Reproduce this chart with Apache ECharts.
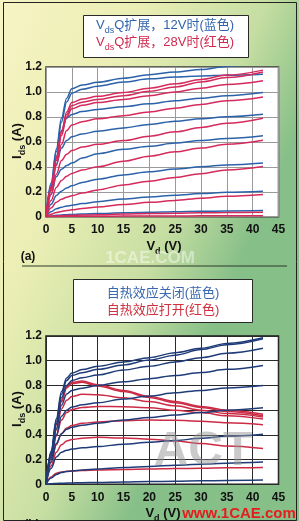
<!DOCTYPE html>
<html>
<head>
<meta charset="utf-8">
<script src="https://cdn.jsdelivr.net/npm/echarts@6/dist/echarts.min.js"></script>
<style>
html,body{margin:0;padding:0;background:#fff;}
#chart{width:299px;height:521px;}
</style>
</head>
<body>
<div id="chart"></div>
<script>
// Drain voltage sample points (V)
const VD = [0, 1, 2, 3, 4, 5, 7, 10, 15, 20, 25, 30, 35, 42];
const X_TICKS = ['0','5','10','15','20','25','30','35','40','45'];
const Y_TICKS = ['0','0.2','0.4','0.6','0.8','1.0','1.2'];

// (a) Vds Q extension, 12V (blue)
const A_BLUE_1 = [0, 0.27, 0.54, 0.79, 0.95, 1.025, 1.055, 1.078, 1.11, 1.138, 1.16, 1.18, 1.205, 1.235];
const A_BLUE_2 = [0, 0.26, 0.52, 0.76, 0.92, 0.99, 1.022, 1.046, 1.08, 1.105, 1.12, 1.128, 1.134, 1.142];
const A_BLUE_3 = [0, 0.24, 0.48, 0.69, 0.79, 0.82, 0.843, 0.86, 0.882, 0.905, 0.93, 0.95, 0.97, 0.995];
const A_BLUE_4 = [0, 0.22, 0.42, 0.55, 0.61, 0.64, 0.663, 0.685, 0.712, 0.74, 0.765, 0.785, 0.802, 0.822];
const A_BLUE_5 = [0, 0.18, 0.32, 0.38, 0.41, 0.43, 0.47, 0.505, 0.54, 0.565, 0.59, 0.61, 0.627, 0.648];
const A_BLUE_6 = [0, 0.1, 0.17, 0.205, 0.23, 0.248, 0.275, 0.3, 0.335, 0.36, 0.382, 0.4, 0.415, 0.43];
const A_BLUE_7 = [0, 0.04, 0.063, 0.076, 0.085, 0.092, 0.105, 0.12, 0.142, 0.158, 0.172, 0.185, 0.195, 0.204];
const A_BLUE_8 = [0, 0.006, 0.011, 0.014, 0.016, 0.018, 0.021, 0.025, 0.031, 0.036, 0.04, 0.043, 0.046, 0.049];
// (a) Vds Q extension, 28V (red)
const A_RED_1 = [0, 0.24, 0.47, 0.68, 0.84, 0.915, 0.943, 0.965, 0.995, 1.03, 1.065, 1.1, 1.135, 1.175];
const A_RED_2 = [0, 0.235, 0.46, 0.67, 0.82, 0.89, 0.918, 0.94, 0.97, 1.005, 1.04, 1.08, 1.115, 1.16];
const A_RED_3 = [0, 0.23, 0.45, 0.65, 0.8, 0.865, 0.893, 0.915, 0.94, 0.97, 1.0, 1.03, 1.06, 1.09];
const A_RED_4 = [0, 0.21, 0.41, 0.58, 0.69, 0.735, 0.762, 0.785, 0.81, 0.84, 0.87, 0.9, 0.93, 0.96];
const A_RED_5 = [0, 0.18, 0.34, 0.45, 0.5, 0.53, 0.558, 0.58, 0.61, 0.645, 0.68, 0.715, 0.75, 0.79];
const A_RED_6 = [0, 0.13, 0.235, 0.29, 0.325, 0.347, 0.375, 0.4, 0.445, 0.485, 0.52, 0.55, 0.58, 0.613];
const A_RED_7 = [0, 0.07, 0.115, 0.14, 0.156, 0.168, 0.19, 0.215, 0.255, 0.285, 0.315, 0.345, 0.375, 0.402];
const A_RED_8 = [0, 0.02, 0.034, 0.042, 0.049, 0.055, 0.065, 0.078, 0.097, 0.115, 0.13, 0.148, 0.163, 0.177];
const A_RED_9 = [0, 0.003, 0.006, 0.008, 0.01, 0.011, 0.013, 0.016, 0.021, 0.025, 0.028, 0.031, 0.034, 0.036];
const A_RED_10 = [0, 0.001, 0.002, 0.002, 0.003, 0.003, 0.003, 0.004, 0.005, 0.006, 0.006, 0.007, 0.007, 0.008];

// (b) self-heating off (blue)
const B_BLUE_1 = [0, 0.27, 0.53, 0.75, 0.86, 0.9, 0.928, 0.955, 0.99, 1.025, 1.065, 1.1, 1.14, 1.185];
const B_BLUE_2 = [0, 0.26, 0.51, 0.73, 0.84, 0.88, 0.903, 0.93, 0.965, 1.005, 1.045, 1.09, 1.13, 1.178];
const B_BLUE_3 = [0, 0.25, 0.49, 0.7, 0.8, 0.84, 0.862, 0.885, 0.925, 0.955, 0.99, 1.025, 1.06, 1.1];
const B_BLUE_4 = [0, 0.23, 0.45, 0.64, 0.73, 0.76, 0.778, 0.8, 0.83, 0.855, 0.88, 0.905, 0.93, 0.962];
const B_BLUE_5 = [0, 0.21, 0.4, 0.55, 0.6, 0.625, 0.643, 0.66, 0.69, 0.715, 0.74, 0.76, 0.78, 0.8];
const B_BLUE_6 = [0, 0.18, 0.33, 0.41, 0.445, 0.462, 0.478, 0.495, 0.52, 0.54, 0.56, 0.58, 0.6, 0.62];
const B_BLUE_7 = [0, 0.13, 0.22, 0.26, 0.275, 0.285, 0.295, 0.305, 0.325, 0.34, 0.355, 0.372, 0.388, 0.405];
const B_BLUE_8 = [0, 0.05, 0.08, 0.095, 0.103, 0.108, 0.115, 0.123, 0.135, 0.145, 0.155, 0.163, 0.171, 0.18];
const B_BLUE_9 = [0, 0.004, 0.007, 0.009, 0.01, 0.011, 0.013, 0.015, 0.019, 0.022, 0.025, 0.028, 0.031, 0.034];
// (b) self-heating on (red)
const B_RED_1 = [0, 0.25, 0.49, 0.68, 0.79, 0.825, 0.835, 0.805, 0.76, 0.71, 0.67, 0.63, 0.6, 0.566];
const B_RED_2 = [0, 0.245, 0.48, 0.67, 0.78, 0.815, 0.825, 0.795, 0.75, 0.703, 0.66, 0.622, 0.59, 0.555];
const B_RED_3 = [0, 0.23, 0.44, 0.61, 0.68, 0.71, 0.728, 0.725, 0.7, 0.67, 0.635, 0.6, 0.572, 0.545];
const B_RED_4 = [0, 0.21, 0.39, 0.52, 0.58, 0.605, 0.622, 0.63, 0.628, 0.62, 0.6, 0.58, 0.555, 0.528];
const B_RED_5 = [0, 0.18, 0.32, 0.41, 0.455, 0.475, 0.493, 0.505, 0.515, 0.52, 0.518, 0.51, 0.498, 0.482];
const B_RED_6 = [0, 0.15, 0.26, 0.32, 0.35, 0.362, 0.373, 0.38, 0.375, 0.365, 0.35, 0.33, 0.31, 0.29];
const B_RED_7 = [0, 0.06, 0.09, 0.1, 0.105, 0.108, 0.112, 0.116, 0.12, 0.123, 0.127, 0.13, 0.133, 0.136];

const A_BLUE = [A_BLUE_1, A_BLUE_2, A_BLUE_3, A_BLUE_4, A_BLUE_5, A_BLUE_6, A_BLUE_7, A_BLUE_8];
const A_RED = [A_RED_1, A_RED_2, A_RED_3, A_RED_4, A_RED_5, A_RED_6, A_RED_7, A_RED_8, A_RED_9, A_RED_10];
const B_BLUE = [B_BLUE_1, B_BLUE_2, B_BLUE_3, B_BLUE_4, B_BLUE_5, B_BLUE_6, B_BLUE_7, B_BLUE_8, B_BLUE_9];
const B_RED = [B_RED_1, B_RED_2, B_RED_3, B_RED_4, B_RED_5, B_RED_6, B_RED_7];

const COL_A_BLUE = '#2b62aa';
const COL_A_RED = '#d42a5c';
const COL_B_BLUE = '#1f3c78';
const COL_B_RED = '#cc2b45';

function mk(arr, color, gi) {
  return {
    type: 'line', xAxisIndex: gi, yAxisIndex: gi,
    data: VD.map((v, i) => [v, arr[i]]),
    showSymbol: false, smooth: 0.35, smoothMonotone: 'x',
    clip: true, silent: true,
    lineStyle: { color: color, width: 1.5 }
  };
}

const series = [];
A_BLUE.forEach(a => series.push(mk(a, COL_A_BLUE, 0)));
A_RED.forEach(a => series.push(mk(a, COL_A_RED, 0)));
B_RED.forEach(a => series.push(mk(a, COL_B_RED, 1)));
B_BLUE.forEach(a => series.push(mk(a, COL_B_BLUE, 1)));

const NUM_FONT = "'Liberation Sans', Arial, sans-serif";
const TXT_FONT = "'Liberation Sans', 'Noto Sans CJK SC', sans-serif";

function xAxisDef(gi, splitColor) {
  return {
    type: 'value', gridIndex: gi, min: 0, max: 45, interval: 5,
    axisLine: { show: false }, axisTick: { show: false },
    splitLine: { show: true, lineStyle: { color: splitColor, width: 1 } },
    axisLabel: {
      margin: 7, color: '#111', fontSize: 12, fontWeight: 'bold', fontFamily: NUM_FONT,
      formatter: v => X_TICKS[Math.round(v / 5)]
    }
  };
}
function yAxisDef(gi, splitColor) {
  return {
    type: 'value', gridIndex: gi, min: 0, max: 1.2, interval: 0.2,
    axisLine: { show: false }, axisTick: { show: false },
    splitLine: { show: true, lineStyle: { color: splitColor, width: 1 } },
    axisLabel: {
      margin: 4, color: '#111', fontSize: 12, fontWeight: 'bold', fontFamily: NUM_FONT,
      formatter: v => Y_TICKS[Math.round(v / 0.2)]
    }
  };
}

function titleBox(x, y, w, h) {
  return { type: 'rect', shape: { x: x, y: y, width: w, height: h },
    style: { fill: '#ffffff', stroke: '#2a2a2a', lineWidth: 1 }, z: 10 };
}
function subText(x, y, main1, sub, main2, color) {
  return {
    type: 'text', x: x, y: y, z: 11,
    style: {
      text: '{m|' + main1 + '}{s|' + sub + '}{m|' + main2 + '}',
      align: 'center', verticalAlign: 'middle',
      rich: {
        m: { fontSize: 13, lineHeight: 20, fill: color, fontFamily: TXT_FONT },
        s: { fontSize: 9, lineHeight: 10, verticalAlign: 'bottom', fill: color, fontFamily: TXT_FONT }
      }
    }
  };
}
function plainText(x, y, t, color, size, weight) {
  return { type: 'text', x: x, y: y, z: 11,
    style: { text: t, fill: color, fontSize: size, fontWeight: weight || 'normal',
      fontFamily: TXT_FONT, align: 'center', verticalAlign: 'middle' } };
}
function axisNameBold(x, y, main1, sub, main2, rot) {
  return {
    type: 'text', x: x, y: y, rotation: rot, z: 11,
    style: {
      text: '{m|' + main1 + '}{s|' + sub + '}{m|' + main2 + '}',
      align: 'center', verticalAlign: 'middle',
      rich: {
        m: { fontSize: 13, lineHeight: 20, fontWeight: 'bold', fill: '#111', fontFamily: NUM_FONT },
        s: { fontSize: 9, lineHeight: 10, fontWeight: 'bold', verticalAlign: 'bottom', fill: '#111', fontFamily: NUM_FONT }
      }
    }
  };
}

const option = {
  animation: false,
  backgroundColor: {
    type: 'linear', x: 0, y: 0, x2: 1, y2: 0.25,
    colorStops: [
      { offset: 0, color: '#f8f4c4' },
      { offset: 0.4, color: '#eaeeb4' },
      { offset: 0.75, color: '#c6dea2' },
      { offset: 1, color: '#86bf88' }
    ]
  },
  grid: [
    { left: 46, right: 20.5, top: 67, bottom: 304.3, show: true, backgroundColor: '#ffffff', borderColor: '#3a3a3a', borderWidth: 1.5 },
    { left: 46, right: 20.5, top: 336, bottom: 36.7, show: true, backgroundColor: '#ffffff', borderColor: '#1a1a1a', borderWidth: 1.5 }
  ],
  xAxis: [xAxisDef(0, '#9a9a9a'), xAxisDef(1, '#2a2a2a')],
  yAxis: [yAxisDef(0, '#9a9a9a'), yAxisDef(1, '#2a2a2a')],
  series: series,
  graphic: [
    { type: 'rect', shape: { x: 3.5, y: 2.5, width: 293, height: 518 }, style: { fill: 'none', stroke: '#222', lineWidth: 1 }, z: 5 },
    { type: 'line', shape: { x1: 22, y1: 266, x2: 287, y2: 266 }, style: { stroke: '#2c3a2c', lineWidth: 1 }, z: 5 },
    titleBox(83.5, 15.5, 165, 42),
    subText(165, 25, 'V', 'ds', 'Q扩展，12V时(蓝色)', '#3064ac'),
    subText(165, 42, 'V', 'ds', 'Q扩展，28V时(红色)', '#d02a4e'),
    titleBox(73.5, 279.5, 179, 43),
    plainText(163, 293, '自热效应关闭(蓝色)', '#3a68ae', 13),
    plainText(163, 310, '自热效应打开(红色)', '#d0303f', 13),
    axisNameBold(17, 141, 'I', 'ds', ' (A)', Math.PI / 2),
    axisNameBold(17, 409, 'I', 'ds', ' (A)', Math.PI / 2),
    axisNameBold(164, 246, 'V', 'd', ' (V)', 0),
    axisNameBold(163, 513, 'V', 'd', ' (V)', 0),
    plainText(28, 257, '(a)', '#111', 12, 'bold'),
    plainText(32, 525, '(b)', '#111', 12, 'bold'),
    { type: 'text', x: 150, y: 258, z: 12, style: { text: '1CAE.COM', fill: 'rgba(255,255,255,0.45)', fontSize: 17, fontWeight: 'bold', fontFamily: NUM_FONT, align: 'center', verticalAlign: 'middle' } },
    { type: 'text', x: 203, y: 452, z: 12, style: { text: 'ACT', fill: 'rgba(150,150,150,0.5)', fontSize: 48, fontWeight: 'bold', fontFamily: NUM_FONT, align: 'center', verticalAlign: 'middle' } },
    { type: 'text', x: 239, y: 514, z: 12, style: { text: 'www.1CAE.com', fill: '#e41e1e', fontSize: 15, fontWeight: 'bold', fontFamily: NUM_FONT, align: 'center', verticalAlign: 'middle' } }
  ]
};

const chart = echarts.init(document.getElementById('chart'), null, { renderer: 'canvas' });
chart.setOption(option);
</script>
</body>
</html>
